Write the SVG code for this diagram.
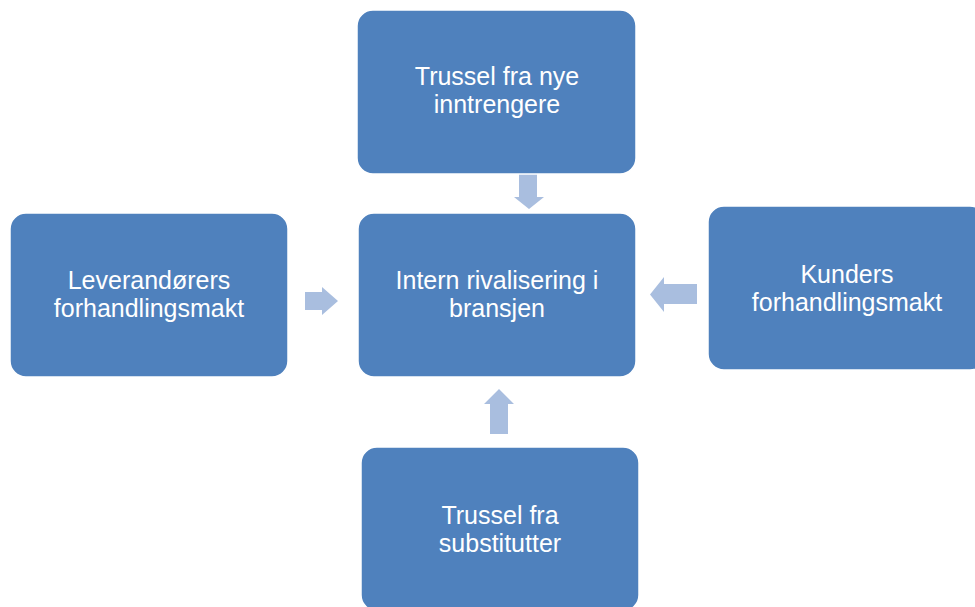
<svg xmlns="http://www.w3.org/2000/svg" width="975" height="607" viewBox="0 0 975 607">
  <style>
    .box { fill: #4F81BD; stroke: #FFFFFF; stroke-width: 1.5; }
    .lbl { fill: #FFFFFF; font-family: "Liberation Sans", Arial, sans-serif; font-size: 25px; text-anchor: middle; }
    .arr { fill: #A9BEDF; }
  </style>
  <rect width="975" height="607" fill="#FFFFFF"/>

  <!-- connectors (block arrows pointing at the centre) -->
  <g id="connectors">
    <polygon class="arr" points="519,174 537,174 537,197 544,197 529,209 514,197 519,197"/>
    <polygon class="arr" points="305,292 322,292 322,287 338,301 322,315 322,310 305,310"/>
    <polygon class="arr" points="697,284 664,284 664,277 650,294.5 664,312 664,304 697,304"/>
    <polygon class="arr" points="490,434 508,434 508,404 514,404 499,389 484,404 490,404"/>
  </g>

  <g id="node-new-entrants">
    <rect class="box" x="357" y="10" width="279" height="164" rx="16"/>
    <text class="lbl" x="497" y="85">Trussel fra nye</text>
    <text class="lbl" x="497" y="113">inntrengere</text>
  </g>

  <g id="node-rivalry">
    <rect class="box" x="358" y="213" width="278" height="164" rx="16"/>
    <text class="lbl" x="497" y="289">Intern rivalisering i</text>
    <text class="lbl" x="497" y="317">bransjen</text>
  </g>

  <g id="node-suppliers">
    <rect class="box" x="10" y="213" width="278" height="164" rx="16"/>
    <text class="lbl" x="149" y="289">Leverandørers</text>
    <text class="lbl" x="149" y="317">forhandlingsmakt</text>
  </g>

  <g id="node-customers">
    <rect class="box" x="708" y="206" width="278" height="164" rx="16"/>
    <text class="lbl" x="847" y="283">Kunders</text>
    <text class="lbl" x="847" y="311">forhandlingsmakt</text>
  </g>

  <g id="node-substitutes">
    <rect class="box" x="361" y="447" width="278" height="164" rx="16"/>
    <text class="lbl" x="500" y="524">Trussel fra</text>
    <text class="lbl" x="500" y="552">substitutter</text>
  </g>
</svg>
